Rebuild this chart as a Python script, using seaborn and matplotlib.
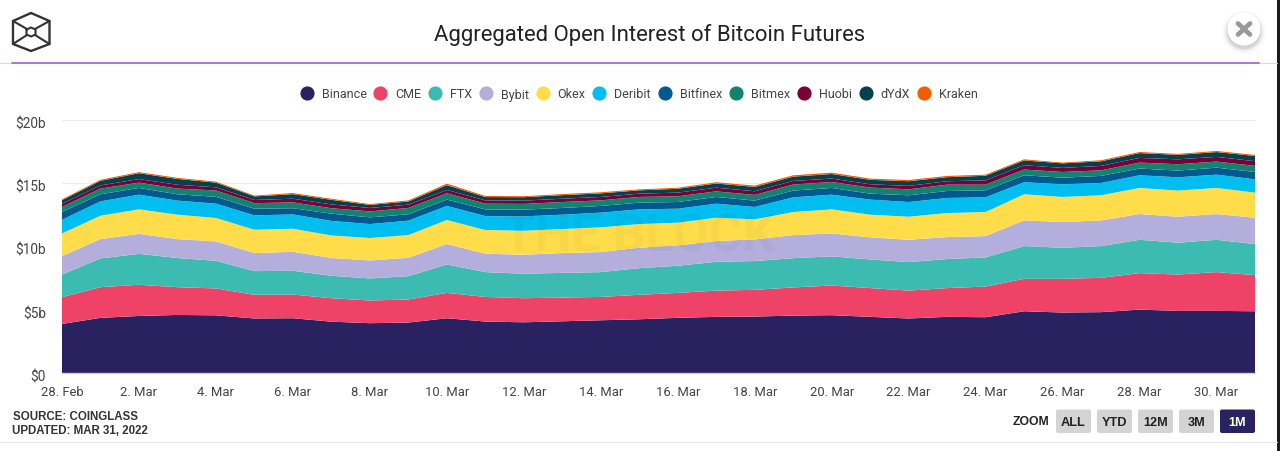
import matplotlib
matplotlib.use("Agg")
import matplotlib.pyplot as plt
from matplotlib.lines import Line2D
from matplotlib.patches import Circle, FancyBboxPatch, Rectangle
from matplotlib.transforms import ScaledTranslation
import pandas as pd
import seaborn as sns
import seaborn.objects as so

exchanges = ["Binance", "CME", "FTX", "Bybit", "Okex", "Deribit", "Bitfinex", "Bitmex", "Huobi", "dYdX", "Kraken"]
colors = ["#2a2260", "#ee4266", "#3cbbb1", "#b4aedd", "#ffdd4a", "#00bef0", "#005a8f", "#12836f", "#7a0038", "#04404e", "#f25c05"]

# one value per day, 28 Feb to 31 Mar, in $b
binance = [3.87, 4.35, 4.5, 4.58, 4.55, 4.3, 4.32, 4.05, 3.93, 3.98, 4.32, 4.06, 4.0, 4.08, 4.16, 4.24,
           4.35, 4.43, 4.45, 4.53, 4.56, 4.43, 4.3, 4.43, 4.4, 4.87, 4.77, 4.8, 5.0, 4.9, 4.9, 4.87]
cme = [2.11, 2.42, 2.46, 2.19, 2.12, 1.87, 1.87, 1.85, 1.79, 1.82, 2.0, 1.94, 1.9, 1.87, 1.84, 1.93,
       1.97, 2.07, 2.11, 2.22, 2.34, 2.27, 2.2, 2.27, 2.42, 2.56, 2.66, 2.71, 2.88, 2.87, 3.06, 2.85]
ftx = [1.79, 2.27, 2.44, 2.3, 2.18, 1.87, 1.87, 1.77, 1.74, 1.84, 2.24, 1.96, 1.93, 1.95, 1.96, 2.1,
       2.14, 2.27, 2.27, 2.31, 2.3, 2.26, 2.25, 2.29, 2.3, 2.58, 2.45, 2.5, 2.63, 2.51, 2.55, 2.45]
bybit = [1.45, 1.52, 1.58, 1.49, 1.53, 1.42, 1.5, 1.4, 1.42, 1.45, 1.61, 1.45, 1.5, 1.56, 1.58, 1.61,
         1.61, 1.64, 1.71, 1.82, 1.81, 1.74, 1.76, 1.73, 1.68, 2.03, 2.03, 2.03, 2.03, 2.05, 2.03, 2.08]
okex = [1.79, 1.85, 1.93, 1.93, 1.85, 1.84, 1.82, 1.78, 1.77, 1.79, 1.9, 1.87, 1.89, 1.9, 1.95, 1.87,
        1.79, 1.84, 1.58, 1.82, 1.9, 1.79, 1.82, 1.9, 1.9, 2.06, 1.98, 1.98, 2.06, 2.06, 2.06, 1.98]
deribit = [1.08, 1.13, 1.16, 1.11, 1.13, 1.14, 1.13, 1.15, 1.1, 1.14, 1.11, 1.1, 1.14, 1.13, 1.16, 1.16,
           1.1, 1.11, 0.98, 1.16, 1.16, 1.19, 1.16, 1.19, 1.16, 0.95, 1.0, 0.97, 1.0, 1.05, 1.05, 1.05]
bitfinex = [0.61, 0.56, 0.53, 0.5, 0.54, 0.52, 0.49, 0.57, 0.53, 0.5, 0.5, 0.53, 0.53, 0.53, 0.53, 0.53,
            0.53, 0.53, 0.5, 0.53, 0.53, 0.47, 0.53, 0.55, 0.55, 0.55, 0.52, 0.56, 0.53, 0.53, 0.55, 0.58]
bitmex = [0.4, 0.45, 0.42, 0.45, 0.5, 0.44, 0.46, 0.43, 0.47, 0.5, 0.5, 0.45, 0.45, 0.47, 0.44, 0.45,
          0.45, 0.44, 0.45, 0.48, 0.47, 0.48, 0.47, 0.5, 0.45, 0.45, 0.45, 0.44, 0.47, 0.5, 0.48, 0.48]
huobi = [0.25, 0.25, 0.28, 0.3, 0.25, 0.25, 0.29, 0.3, 0.27, 0.26, 0.26, 0.26, 0.26, 0.26, 0.27, 0.26,
         0.29, 0.29, 0.29, 0.28, 0.27, 0.26, 0.27, 0.27, 0.34, 0.34, 0.32, 0.35, 0.37, 0.39, 0.37, 0.37]
dydx = [0.28, 0.36, 0.46, 0.46, 0.37, 0.28, 0.36, 0.36, 0.24, 0.25, 0.38, 0.26, 0.27, 0.28, 0.28, 0.26,
        0.3, 0.33, 0.34, 0.34, 0.36, 0.35, 0.37, 0.32, 0.36, 0.38, 0.36, 0.36, 0.38, 0.35, 0.38, 0.41]
kraken = [0.07, 0.09, 0.09, 0.09, 0.08, 0.07, 0.09, 0.09, 0.07, 0.09, 0.12, 0.09, 0.08, 0.09, 0.09, 0.08,
          0.09, 0.1, 0.11, 0.11, 0.11, 0.1, 0.1, 0.1, 0.09, 0.09, 0.06, 0.09, 0.09, 0.08, 0.09, 0.09]
series = [binance, cme, ftx, bybit, okex, deribit, bitfinex, bitmex, huobi, dydx, kraken]

x_ticks = list(range(0, 32, 2))
x_labels = ["28. Feb", "2. Mar", "4. Mar", "6. Mar", "8. Mar", "10. Mar", "12. Mar", "14. Mar",
            "16. Mar", "18. Mar", "20. Mar", "22. Mar", "24. Mar", "26. Mar", "28. Mar", "30. Mar"]
y_ticks = [0, 5, 10, 15, 20]
y_labels = ["$0", "$5b", "$10b", "$15b", "$20b"]
buttons = ["ALL", "YTD", "12M", "3M", "1M"]

sns.set_style("white")
plt.rcParams["font.family"] = ["Roboto", "DejaVu Sans"]

W, H = 1280, 452
fig = plt.figure(figsize=(W / 100, H / 100), dpi=100)
ax = fig.add_axes([62 / W, 1 - 374 / H, (1255 - 62) / W, (374 - 120.5) / H])

df = pd.concat([pd.DataFrame({"day": range(len(vals)), "value": vals, "exchange": name})
                for name, vals in zip(exchanges, series)], ignore_index=True)

(
    so.Plot(df, x="day", y="value", color="exchange")
    .add(so.Area(alpha=1, edgewidth=0.2), so.Stack(), legend=False)
    .scale(color=so.Nominal(colors, order=exchanges))
    .on(ax)
    .plot()
)

ax.set_facecolor("white")
ax.set_xlim(0, 31)
ax.set_ylim(0, 20)
ax.set_xlabel("")
ax.set_ylabel("")
ax.set_xticks(x_ticks, x_labels, fontsize=9.4, color="#444444")
ax.set_yticks(y_ticks, y_labels, fontsize=9.8, color="#444444")
ax.tick_params(length=0, axis="x", pad=8.4)
ax.tick_params(length=0, axis="y", pad=11.5)
# the y labels sit a little under their gridlines
for lab in ax.get_yticklabels():
    lab.set_transform(lab.get_transform() + ScaledTranslation(0, -2 / 100, fig.dpi_scale_trans))
ax.grid(axis="y", color="#ececec", lw=0.8)
ax.grid(axis="x", visible=False)
ax.set_axisbelow(True)
for side in ["top", "left", "right"]:
    ax.spines[side].set_visible(False)
ax.spines["bottom"].set_color("#ccd0dc")
ax.spines["bottom"].set_linewidth(1)

ax.text(0.484, 0.54, "THE BLOCK", transform=ax.transAxes, ha="center", va="center",
        fontsize=37, fontweight="bold", color="black", alpha=0.03)

handles = [Line2D([], [], ls="", marker="o", ms=9.2, mfc=c, mec=c) for c in colors]
fig.legend(handles, exchanges, loc="center", bbox_to_anchor=(639 / W, 1 - 95 / H), ncol=len(exchanges),
           frameon=False, handlelength=1, handletextpad=0.7, columnspacing=0.6, fontsize=9.0,
           labelcolor="#444444", borderpad=0)

# page furniture, drawn in pixel coordinates
page = fig.add_axes([0, 0, 1, 1], facecolor="none")
page.set_xlim(0, W)
page.set_ylim(H, 0)
page.axis("off")

page.text(650, 35, "Aggregated Open Interest of Bitcoin Futures", ha="center", va="center", fontsize=15.9, color="#222222")

page.plot([0, 1277], [64, 64], color="#e6d0ef", lw=0.8)
page.plot([12, 1259], [64, 64], color="#b565d8", lw=1.3)
page.plot([0, 1277], [443, 443], color="#e8e8e8", lw=0.8)

# logo
hex_x = [31, 49.5, 49.5, 31, 13, 13, 31]
hex_y = [14, 22, 45, 52, 45, 22, 14]
page.plot(hex_x, hex_y, color="#333333", lw=1.7)
page.plot([26.5, 31, 35.5, 35.5, 31, 26.5, 26.5], [30.5, 28.5, 30.5, 35.5, 37.5, 35.5, 30.5], color="#333333", lw=1.5)
for x0, y0, x1, y1 in [(13, 22, 27, 30), (49.5, 22, 35, 30), (13, 45, 27, 36), (49.5, 45, 35, 36)]:
    page.plot([x0, x1], [y0, y1], color="#333333", lw=1.5)

# close button
for r, a in [(22, 0.02), (20, 0.03), (18.5, 0.05), (17, 0.08)]:
    page.add_patch(Circle((1244, 33), r, color="black", alpha=a, lw=0))
page.add_patch(Circle((1244, 30), 16.5, color="white", lw=0))
page.plot([1238, 1250], [24.5, 35.5], color="#999999", lw=3.4)
page.plot([1250, 1238], [24.5, 35.5], color="#999999", lw=3.4)

# source note and zoom buttons
page.text(13, 417, "SOURCE: COINGLASS", family="Liberation Sans", fontweight="bold", fontsize=8.3, color="#333333", va="center")
page.text(12.5, 431, "UPDATED: MAR 31, 2022", family="Liberation Sans", fontweight="bold", fontsize=8.3, color="#333333", va="center")
page.text(1031, 422.5, "ZOOM", family="Liberation Sans", fontweight="bold", fontsize=8.8, color="#222222", ha="center", va="center")
for label, left in zip(buttons, [1056, 1097, 1138, 1179, 1220]):
    active = label == "1M"
    page.add_patch(FancyBboxPatch((left, 410.5), 35, 23.5, boxstyle="round,pad=0,rounding_size=2", ec="none",
                                  fc="#2a2260" if active else "#d4d4d4"))
    page.text(left + 17.5, 423, label, family="Liberation Sans", fontweight="bold", fontsize=9.2,
              color="white" if active else "#222222", ha="center", va="center")

# dark edge of the screenshot
page.add_patch(Rectangle((1277, 0), 3, H, color="#1c1c1c", lw=0))

fig.savefig("out.png", dpi=100)
